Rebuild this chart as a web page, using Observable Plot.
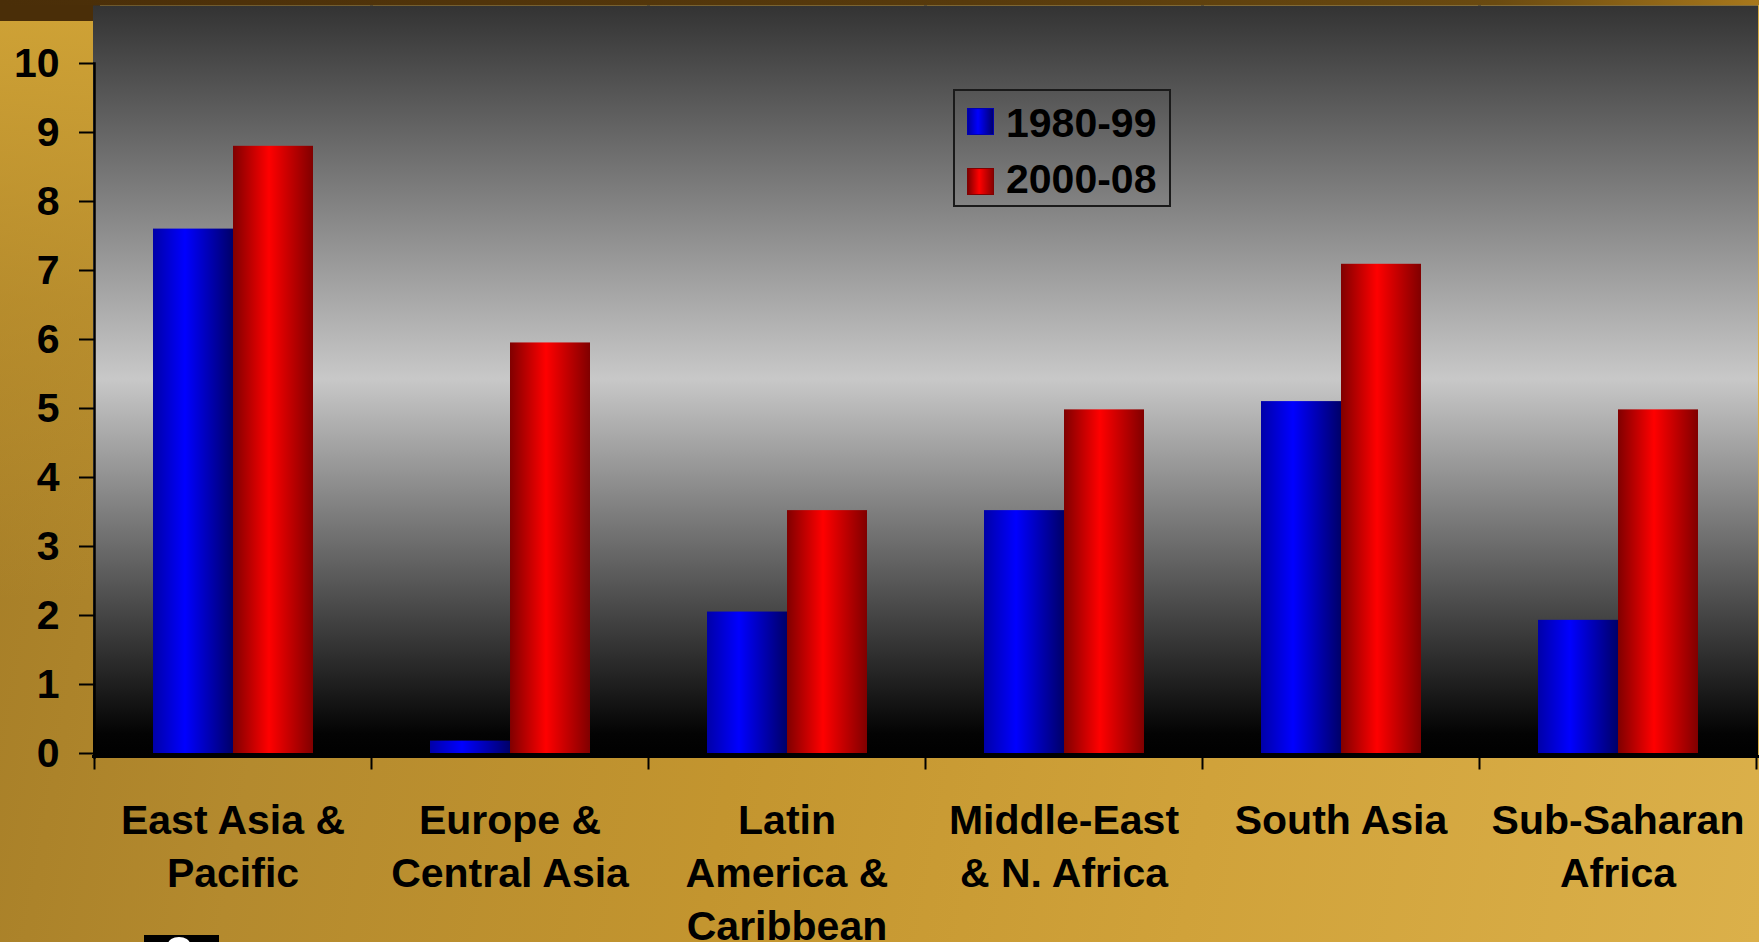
<!DOCTYPE html>
<html>
<head>
<meta charset="utf-8">
<script src="https://cdn.jsdelivr.net/npm/d3@7"></script>
<script src="https://cdn.jsdelivr.net/npm/@observablehq/plot@0.6"></script>
<style>
html, body { margin: 0; padding: 0; width: 1759px; height: 942px; overflow: hidden; }
body {
  position: relative;
  font-family: "Liberation Sans", Arial, sans-serif;
  background:
    linear-gradient(to right, #4a2e08 0%, #573a0c 55%, #6a4a10 85%, #a8781c 100%) top left / 100% 5px no-repeat,
    linear-gradient(to bottom, #4a2e08 0px, #4a2e08 21px, rgba(0,0,0,0) 21px) top left / 100px 100% no-repeat,
    linear-gradient(to bottom, rgba(210,165,55,0.9) 21px, rgba(200,155,50,0.5) 300px, rgba(0,0,0,0) 600px) top left / 100px 100% no-repeat,
    linear-gradient(100deg, #a47c26 0%, #b48a2e 20%, #c3952f 45%, #d0a23a 70%, #dbb04a 100%);
}
#chart { position: absolute; left: 0; top: 0; }
.legend { position: absolute; left: 953px; top: 89px; width: 214px; height: 114px; border: 2px solid #1a1a1a; }
.legend .sw { position: absolute; left: 12px; width: 25px; height: 25px; }
.legend .sw.b { top: 17px; border: 1px solid #0000b0; background: linear-gradient(to right, #0000a0 0%, #0000ff 40%, #000070 100%); }
.legend .sw.r { top: 77px; border: 1px solid #800000; background: linear-gradient(to right, #800000 0%, #ff0000 45%, #8a0000 100%); }
.legend .t { position: absolute; left: 51px; font-size: 41px; font-weight: bold; color: #000; line-height: normal; white-space: nowrap; }
.logo { position: absolute; left: 144px; top: 935px; width: 75px; height: 7px; background: #000; overflow: hidden; }
.logo::after { content: ""; position: absolute; left: 24px; top: 2px; width: 22px; height: 14px; border-radius: 50%; background: #fff; }
</style>
</head>
<body>
<div id="chart"></div>
<div class="legend">
  <div class="sw b"></div><div class="t" style="top:9px">1980-99</div>
  <div class="sw r"></div><div class="t" style="top:65px">2000-08</div>
</div>
<div class="logo"></div>
<script>
const regions = ["East Asia & Pacific", "Europe & Central Asia", "Latin America & Caribbean", "Middle-East & N. Africa", "South Asia", "Sub-Saharan Africa"];
const regionLabels = ["East Asia &\nPacific", "Europe &\nCentral Asia", "Latin\nAmerica &\nCaribbean", "Middle-East\n& N. Africa", "South Asia", "Sub-Saharan\nAfrica"];
const periods = ["1980-99", "2000-08"];
const values1980_99 = [7.6, 0.18, 2.05, 3.52, 5.1, 1.93];
const values2000_08 = [8.8, 5.95, 3.52, 4.98, 7.09, 4.98];
const yTicks = [0, 1, 2, 3, 4, 5, 6, 7, 8, 9, 10];

const data = regions.flatMap((r, i) => [
  {region: r, period: periods[0], value: values1980_99[i]},
  {region: r, period: periods[1], value: values2000_08[i]}
]);

const plot = Plot.plot({
  width: 1759,
  height: 942,
  marginLeft: 93,
  marginRight: 3,
  marginTop: 5,
  marginBottom: 186,
  style: {background: "transparent", fontFamily: "Liberation Sans, Arial, sans-serif", color: "#000", overflow: "visible"},
  fx: {domain: regions, padding: 0, label: null},
  x: {domain: periods, paddingInner: 0, paddingOuter: 0.71, axis: null},
  y: {domain: [0, 10], insetTop: 58, insetBottom: 3, axis: null},
  color: {domain: periods, range: ["url(#gBlue)", "url(#gRed)"]},
  marks: [
    Plot.frame({fill: "url(#gPanel)", stroke: "none", insetLeft: -1.5, insetRight: -1.5}),
    Plot.barY(data, {fx: "region", x: "period", y: "value", fill: "period"}),
    Plot.frame({anchor: "bottom", stroke: "#000", strokeWidth: 3, insetLeft: -1, insetRight: -1}),
    Plot.frame({anchor: "left", stroke: "#000", strokeWidth: 2, insetTop: 751, insetBottom: -12}),
    Plot.frame({anchor: "right", facetAnchor: "right", stroke: "#000", strokeWidth: 2, insetTop: 751, insetBottom: -12}),
    Plot.frame({anchor: "left", facetAnchor: "left", stroke: "#000", strokeWidth: 2.5, insetTop: 58, insetBottom: -1}),
    Plot.axisY({ticks: yTicks, tickSize: 15, tickPadding: 20, tickFormat: d => String(d), fontSize: 41, fontWeight: "bold", strokeWidth: 2, label: null}),
    Plot.axisFx({anchor: "bottom", tickSize: 0, tickPadding: 40, tickFormat: d => regionLabels[regions.indexOf(d)], lineHeight: 1.29, fontSize: 41, fontWeight: "bold", label: null})
  ]
});

const svg = d3.select(plot);
const defs = svg.insert("defs", ":first-child");
const panel = defs.append("linearGradient").attr("id", "gPanel").attr("x1", 0).attr("y1", 0).attr("x2", 0).attr("y2", 1);
[[0, "#333333"], [0.497, "#c8c8c8"], [0.97, "#030303"], [1, "#000000"]].forEach(([o, c]) => panel.append("stop").attr("offset", o).attr("stop-color", c));
const blue = defs.append("linearGradient").attr("id", "gBlue").attr("x1", 0).attr("y1", 0).attr("x2", 1).attr("y2", 0);
[[0, "#0000a8"], [0.4, "#0000ff"], [1, "#000068"]].forEach(([o, c]) => blue.append("stop").attr("offset", o).attr("stop-color", c));
const red = defs.append("linearGradient").attr("id", "gRed").attr("x1", 0).attr("y1", 0).attr("x2", 1).attr("y2", 0);
[[0, "#800000"], [0.45, "#ff0000"], [1, "#800000"]].forEach(([o, c]) => red.append("stop").attr("offset", o).attr("stop-color", c));

document.getElementById("chart").appendChild(plot);
</script>
</body>
</html>
